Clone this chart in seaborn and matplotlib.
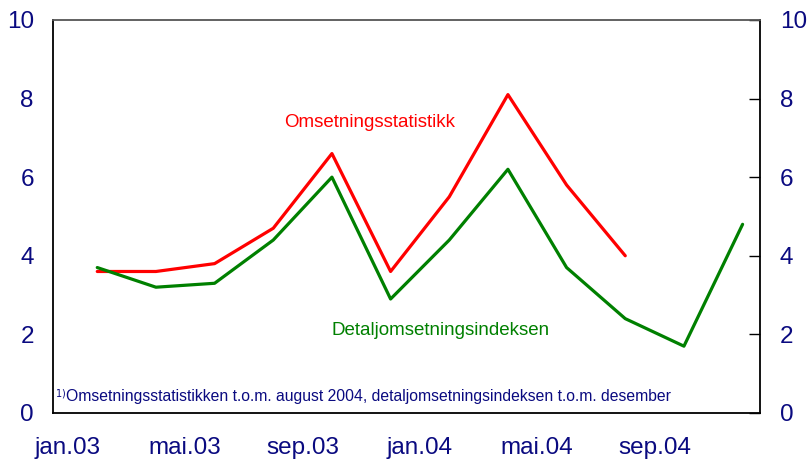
import pandas as pd
import matplotlib.pyplot as plt
import seaborn as sns

# bimonthly periods, months counted from jan.03
periods = ['jan-feb.03', 'mar-apr.03', 'mai-jun.03', 'jul-aug.03', 'sep-okt.03', 'nov-des.03',
           'jan-feb.04', 'mar-apr.04', 'mai-jun.04', 'jul-aug.04', 'sep-okt.04', 'nov-des.04']
period_month = [1.5, 3.5, 5.5, 7.5, 9.5, 11.5, 13.5, 15.5, 17.5, 19.5, 21.5, 23.5]

omsetning = [3.6, 3.6, 3.8, 4.7, 6.6, 3.6, 5.5, 8.1, 5.8, 4.0, None, None]
detalj = [3.7, 3.2, 3.3, 4.4, 6.0, 2.9, 4.4, 6.2, 3.7, 2.4, 1.7, 4.8]

tick_months = [0, 4, 8, 12, 16, 20]
tick_labels = ['jan.03', 'mai.03', 'sep.03', 'jan.04', 'mai.04', 'sep.04']

df = pd.DataFrame({'month': period_month, 'Omsetningsstatistikk': omsetning,
                   'Detaljomsetningsindeksen': detalj})

sns.set_style('white')
plt.rcParams['font.family'] = ['Liberation Sans', 'DejaVu Sans']
navy = '#0a0a80'

fig, ax = plt.subplots(figsize=(8.07, 4.63), dpi=100)
fig.subplots_adjust(left=0.066, right=0.942, top=0.957, bottom=0.108)

sns.lineplot(data=df, x='month', y='Omsetningsstatistikk', color='#ff0000', lw=2.3, ax=ax)
sns.lineplot(data=df, x='month', y='Detaljomsetningsindeksen', color='#008000', lw=2.3, ax=ax)

ax.set_xlim(0, 24.1)
ax.set_ylim(0, 10)
ax.set_xlabel('')
ax.set_ylabel('')

ax.set_xticks(tick_months)
ax.set_xticklabels([])
ax.set_xticks([m + 0.5 for m in tick_months], minor=True)
ax.set_xticklabels(tick_labels, minor=True)
ax.tick_params(axis='x', which='major', direction='in', length=6, width=1, color='black')
ax.tick_params(axis='x', which='minor', length=0, pad=17, labelsize=17.5, labelcolor=navy)

ax.set_yticks([0, 2, 4, 6, 8, 10])
ax.tick_params(axis='y', direction='in', length=8, width=1, color='black', pad=14,
               labelsize=17.5, labelcolor=navy, right=True, labelright=True)

for side in ['left', 'bottom', 'right']:
    ax.spines[side].set_color('black')
    ax.spines[side].set_linewidth(1.3)
ax.spines['top'].set_color('#555555')
ax.spines['top'].set_linewidth(1.3)

ax.text(10.8, 7.4, 'Omsetningsstatistikk', color='#ff0000', fontsize=13.5, ha='center', va='center')
ax.text(13.2, 2.1, 'Detaljomsetningsindeksen', color='#008000', fontsize=13.5, ha='center', va='center')
ax.text(0.05, 0.42, '$^{1)}$', color=navy, fontsize=10, ha='left', va='center')
ax.text(0.45, 0.42, 'Omsetningsstatistikken t.o.m. august 2004, detaljomsetningsindeksen t.o.m. desember',
        color=navy, fontsize=11.3, ha='left', va='center')

fig.savefig('out.png', dpi=100)
